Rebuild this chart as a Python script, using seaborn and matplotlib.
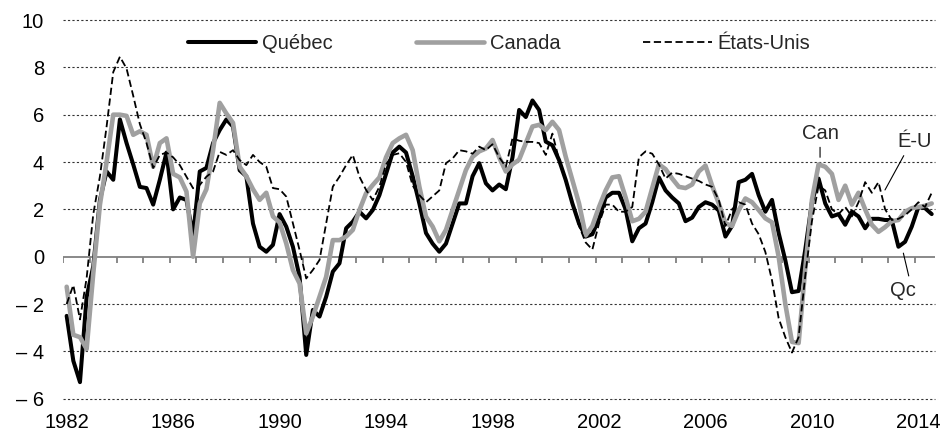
"""
Croissance du PIB réel : Québec, Canada, États-Unis (1982-2014)
"""

import numpy as np
import pandas as pd
import matplotlib
matplotlib.use('Agg')
import matplotlib.pyplot as plt
import seaborn as sns


# quarterly values, 1982Q1 onwards
quebec = [
    -2.5, -4.4, -5.3, -1.7, -0.4, 2.4, 3.6, 3.25, 5.8, 4.8, 3.9, 2.95, 2.9, 2.2, 3.25, 4.4,
    2.0, 2.5, 2.4, 0.9, 3.6, 3.75, 4.8, 5.35, 5.8, 5.5, 3.65, 3.4, 1.4, 0.42, 0.21, 0.5,
    1.8, 1.27, 0.42, -0.85, -4.15, -2.25, -2.53, -1.69, -0.63, -0.28, 1.2, 1.48, 1.9, 1.62, 1.97, 2.6,
    3.5, 4.4, 4.65, 4.4, 3.4, 2.25, 1.0, 0.55, 0.21, 0.55, 1.4, 2.25, 2.25, 3.4, 3.95, 3.1,
    2.8, 3.05, 2.85, 4.2, 6.2, 5.9, 6.6, 6.2, 4.86, 4.71, 4.08, 3.24, 2.25, 1.4, 0.85, 0.95,
    1.6, 2.5, 2.7, 2.7, 2.0, 0.65, 1.2, 1.4, 2.3, 3.35, 2.8, 2.5, 2.25, 1.5, 1.65, 2.1,
    2.3, 2.2, 1.95, 0.85, 1.3, 3.15, 3.25, 3.5, 2.6, 1.9, 2.4, 1.0, -0.15, -1.5, -1.45, 0.3,
    2.3, 3.3, 2.25, 1.7, 1.8, 1.35, 1.9, 1.7, 1.2, 1.6, 1.6, 1.55, 1.55, 0.42, 0.63, 1.27,
    2.1, 2.05, 1.8,
]
canada = [
    -1.27, -3.3, -3.4, -3.9, -0.7, 2.2, 4.0, 6.0, 6.0, 5.95, 5.15, 5.3, 5.15, 3.8, 4.8, 5.0,
    3.5, 3.35, 2.75, 0.0, 2.25, 2.85, 4.5, 6.5, 6.05, 5.65, 3.8, 3.4, 2.85, 2.4, 2.7, 1.7,
    1.45, 0.56, -0.56, -1.13, -3.24, -2.53, -1.69, -0.85, 0.7, 0.7, 0.85, 1.13, 1.97, 2.68, 3.03, 3.35,
    4.2, 4.8, 5.0, 5.15, 4.5, 2.96, 1.69, 1.27, 0.65, 1.13, 1.97, 2.82, 3.66, 4.22, 4.45, 4.57,
    4.93, 4.2, 3.6, 3.9, 4.1, 4.8, 5.5, 5.57, 5.35, 5.7, 5.35, 4.22, 3.24, 2.25, 0.9, 1.3,
    2.1, 2.8, 3.35, 3.4, 2.5, 1.5, 1.6, 1.9, 2.9, 3.9, 3.7, 3.3, 2.95, 2.9, 3.05, 3.6,
    3.85, 3.0, 2.25, 1.41, 1.3, 1.97, 2.46, 2.3, 1.97, 1.62, 1.45, 0.0, -2.0, -3.6, -3.65, -0.5,
    2.4, 3.9, 3.8, 3.5, 2.4, 3.0, 2.2, 2.7, 2.0, 1.35, 1.05, 1.25, 1.5, 1.55, 1.9, 2.05,
    2.1, 2.15, 2.25,
]
etats_unis = [
    -2.0, -1.2, -2.65, -0.9, 1.8, 3.4, 5.5, 7.8, 8.45, 7.95, 6.8, 5.6, 4.8, 3.75, 4.3, 4.4,
    4.2, 3.87, 3.38, 2.89, 3.03, 3.38, 3.6, 4.43, 4.3, 4.5, 4.08, 3.87, 4.3, 4.0, 3.8, 2.9,
    2.85, 2.54, 1.41, 0.28, -0.92, -0.56, -0.14, 1.41, 2.96, 3.38, 3.87, 4.3, 3.38, 2.82, 2.39, 2.96,
    3.9, 4.3, 4.37, 4.0, 3.0, 2.6, 2.3, 2.55, 2.8, 3.95, 4.15, 4.5, 4.45, 4.35, 4.65, 4.5,
    4.75, 4.2, 3.8, 5.0, 4.9, 4.85, 4.85, 4.8, 4.3, 5.2, 4.1, 3.2, 2.25, 1.3, 0.6, 0.3,
    1.4, 2.2, 2.2, 1.9, 1.9, 2.1, 4.2, 4.45, 4.35, 3.9, 3.3, 3.55, 3.5, 3.4, 3.3, 3.2,
    3.05, 2.95, 2.4, 1.3, 2.0, 2.3, 2.2, 1.4, 0.95, 0.2, -1.0, -2.6, -3.4, -4.05, -3.4, -0.8,
    1.5, 3.0, 2.8, 2.0, 1.8, 2.1, 1.7, 2.3, 3.15, 2.7, 3.15, 2.0, 1.55, 1.6, 1.75, 2.0,
    2.3, 2.1, 2.7,
]

year_ticks = list(range(1982, 2015))
label_years = list(range(1982, 2015, 4))
y_ticks = [10, 8, 6, 4, 2, 0, -2, -4, -6]
y_labels = ['10', '8', '6', '4', '2', '0', '– 2', '– 4', '– 6']

# decimal year at the middle of each quarter
quarters = pd.period_range('1982Q1', periods=len(quebec), freq='Q')
t = np.asarray(quarters.year + (quarters.quarter - 0.5) / 4, dtype=float)

sns.set_style('white')
plt.rcParams['font.family'] = ['Liberation Sans', 'DejaVu Sans']
fs = 14.5

fig = plt.figure(figsize=(9.44, 4.33), dpi=100)
ax = fig.add_axes([0.0671, 0.0792, 0.9234, 0.8746])

# dotted grid, solid zero line with yearly ticks
for y in y_ticks:
    if y != 0:
        ax.axhline(y, color='#333333', lw=0.8, ls=(0, (2, 2)), zorder=0, clip_on=False)
ax.axhline(0, color='#808080', lw=1.3, zorder=1)
ax.vlines(year_ticks, -0.28, 0, color='#808080', lw=1.3, zorder=1)

sns.lineplot(x=t, y=quebec, ax=ax, color='black', lw=2.9, label='Québec', zorder=3)
sns.lineplot(x=t, y=canada, ax=ax, color='#a0a0a0', lw=3.3, label='Canada', zorder=4)
sns.lineplot(x=t, y=etats_unis, ax=ax, color='black', lw=1.3, linestyle=(0, (4, 2)),
             label='États-Unis', zorder=5)

ax.set_xlim(1982, 1982 + len(quebec) / 4)
ax.set_ylim(-6, 10)
for s in ax.spines.values():
    s.set_visible(False)

ax.set_yticks(y_ticks)
ax.set_yticklabels(y_labels)
ax.set_xticks([y + 0.125 for y in label_years])
ax.set_xticklabels([str(y) for y in label_years])
ax.tick_params(axis='both', length=0, labelsize=fs, colors='black')
ax.tick_params(axis='y', pad=14)
ax.tick_params(axis='x', pad=10)
ax.set_xlabel('')
ax.set_ylabel('')

ax.legend(loc='center', bbox_to_anchor=(0.5, 0.937), ncol=3, frameon=False,
          fontsize=fs, handlelength=3.4, handletextpad=0.3, columnspacing=4.1)

line_kw = dict(arrowstyle='-', color='black', lw=0.8, shrinkA=1, shrinkB=0)
ax.annotate('Can', xy=(2010.43, 4.2), xytext=(2010.43, 5.22), ha='center', va='center',
            fontsize=fs, arrowprops=line_kw)
ax.annotate('É-U', xy=(2012.87, 2.82), xytext=(2013.99, 4.86), ha='center', va='center',
            fontsize=fs, arrowprops=dict(line_kw, relpos=(0.25, 0.0)))
ax.annotate('Qc', xy=(2013.56, 0.15), xytext=(2013.56, -1.41), ha='center', va='center',
            fontsize=fs, arrowprops=dict(line_kw, relpos=(0.75, 1.0)))

fig.savefig('out.png', dpi=100)
